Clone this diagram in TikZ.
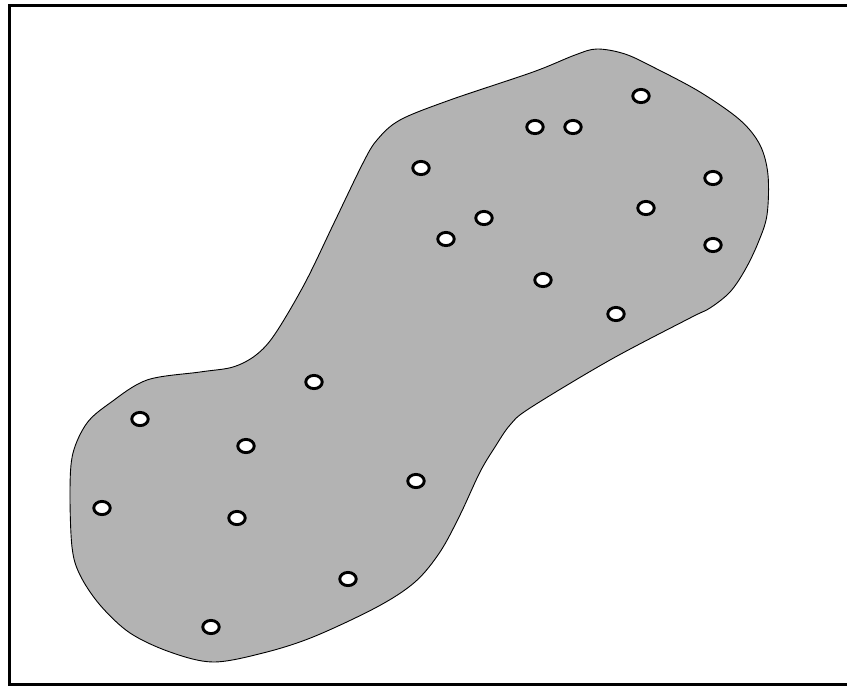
\documentclass[tikz,border=0pt]{standalone}
\definecolor{blobgray}{RGB}{179,179,179}
\tikzset{
  hole/.style={draw=black, fill=white, line width=2.9pt},
  blob/.style={draw=black, fill=blobgray, line width=0.9pt},
  frameline/.style={draw=black, line width=3pt}
}
\begin{document}
\begin{tikzpicture}[x=1pt,y=-1pt]
\useasboundingbox (0,0) rectangle (847,686);
\draw[frameline] (847,5) -- (9,5) -- (9,684) -- (847,684);
\draw[blob] plot[smooth cycle, tension=0.55] coordinates {
(597,49) (625,54) (655,68) (700,92) (740,120) (760,145) (768,175) (767,215)
(758,243) (745,270) (730,292) (710,308) (690,318) (610,360) (530,408) (510,425)
(495,447) (480,472) (460,515) (440,552) (415,582) (377,607) (313,637) (263,653)
(213,662) (170,652) (130,633) (100,605) (80,575) (72,547) (70,490) (73,453)
(87,423) (110,403) (147,380) (200,372) (233,367) (256,355) (275,334)
(305,283) (334,223) (363,163) (377,140) (400,120) (450,100) (533,72) (575,55)};
\foreach \n/\x/\y in {1/641/96, 2/535/127, 3/573/127, 4/421/168, 5/713/178,
  6/646/208, 7/484/218, 8/446/239, 9/713/245, 10/543/280, 11/616/314,
  12/314/382, 13/140/419, 14/246/446, 15/416/481, 16/102/508, 17/237/518,
  18/348/579, 19/211/627} {
  \coordinate (h\n) at (\x,\y);
  \draw[hole] (h\n) ellipse [x radius=8.2, y radius=6.6];
}
\end{tikzpicture}
\end{document}
